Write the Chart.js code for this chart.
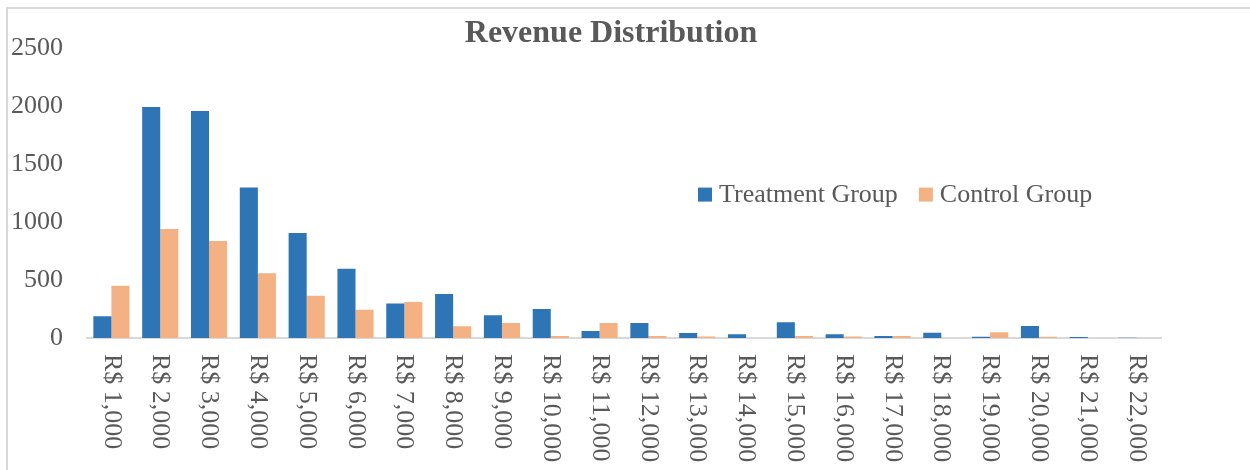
<!DOCTYPE html>
<html lang="en">
  <head>
    <meta charset="UTF-8" />
    <title>Revenue Distribution</title>
    <style>
      body {
        margin: 0;
        background: #fff;
        overflow: hidden;
      }

      .frame {
        position: absolute;
        left: 6px;
        top: 7px;
        right: 0;
        bottom: 0;
        border-left: 2px solid #d9d9d9;
        border-top: 2px solid #d9d9d9;
      }
    </style>
  </head>
  <body>
    <script src="https://cdn.jsdelivr.net/npm/chart.js@4.4.1/dist/chart.umd.min.js"></script>

    <div class="frame">
      <canvas id="bar-chart" width="1204" height="461"></canvas>
    </div>

    <script>
      const labels = [
        "R$ 1,000", "R$ 2,000", "R$ 3,000", "R$ 4,000", "R$ 5,000", "R$ 6,000",
        "R$ 7,000", "R$ 8,000", "R$ 9,000", "R$ 10,000", "R$ 11,000", "R$ 12,000",
        "R$ 13,000", "R$ 14,000", "R$ 15,000", "R$ 16,000", "R$ 17,000", "R$ 18,000",
        "R$ 19,000", "R$ 20,000", "R$ 21,000", "R$ 22,000"
      ];
      const treatment = [187, 1995, 1960, 1300, 908, 598, 299, 380, 197, 250, 60, 129, 43, 32, 135, 32, 18, 46, 10, 103, 9, 3];
      const control = [451, 941, 838, 560, 365, 245, 310, 102, 129, 18, 129, 18, 13, 0, 18, 12, 18, 0, 49, 10, 0, 0];
      const yTicks = [0, 500, 1000, 1500, 2000, 2500];
      const chartTitle = "Revenue Distribution";

      const font = "'Liberation Serif', 'Times New Roman', serif";
      const grey = "#595959";

      // title is centred on the whole frame, not on the plot
      const titlePlugin = {
        id: "frameTitle",
        afterDraw(chart) {
          const ctx = chart.ctx;
          ctx.save();
          ctx.font = "bold 32px " + font;
          ctx.fillStyle = grey;
          ctx.textAlign = "center";
          ctx.textBaseline = "middle";
          ctx.fillText(chartTitle, chart.width / 2 + 1, 25);
          ctx.restore();
        }
      };

      // x labels read top-to-bottom, which chart.js can't rotate that way
      const xLabelsPlugin = {
        id: "xLabels",
        afterDraw(chart) {
          const ctx = chart.ctx;
          const x = chart.scales.x;
          ctx.save();
          ctx.font = "26px " + font;
          ctx.fillStyle = grey;
          ctx.textAlign = "left";
          ctx.textBaseline = "middle";
          chart.data.labels.forEach((lab, i) => {
            ctx.save();
            ctx.translate(x.getPixelForValue(i), x.top + 16);
            ctx.rotate(Math.PI / 2);
            ctx.fillText(lab, 0, 0);
            ctx.restore();
          });
          ctx.restore();
        }
      };

      // legend sits inside the plot area
      const legendPlugin = {
        id: "innerLegend",
        afterDraw(chart) {
          const ctx = chart.ctx;
          const area = chart.chartArea;
          let lx = area.left + 611;
          const ly = area.top + 146;
          ctx.save();
          ctx.font = "26px " + font;
          ctx.textBaseline = "middle";
          chart.data.datasets.forEach(ds => {
            ctx.fillStyle = ds.backgroundColor;
            ctx.fillRect(lx, ly - 7, 14, 14);
            ctx.fillStyle = grey;
            ctx.fillText(ds.label, lx + 21, ly + 1);
            lx += 21 + ctx.measureText(ds.label).width + 21;
          });
          ctx.restore();
        }
      };

      new Chart(document.getElementById("bar-chart"), {
        type: "bar",
        data: {
          labels: labels,
          datasets: [
            {
              label: "Treatment Group",
              data: treatment,
              backgroundColor: "#2e75b6"
            },
            {
              label: "Control Group",
              data: control,
              backgroundColor: "#f4b183"
            }
          ]
        },
        options: {
          responsive: false,
          animation: false,
          devicePixelRatio: 1,
          datasets: {
            bar: { categoryPercentage: 0.74, barPercentage: 1 }
          },
          layout: { padding: { left: 0, right: 51, top: 37, bottom: 0 } },
          plugins: {
            legend: { display: false },
            tooltip: { enabled: false },
            title: { display: false }
          },
          scales: {
            x: {
              grid: { display: false, drawTicks: false },
              border: { display: true, color: "#d9d9d9", width: 2 },
              ticks: { display: false },
              afterFit(scale) {
                scale.height = 132;
              }
            },
            y: {
              min: 0,
              max: 2500,
              grid: { display: false, drawTicks: false },
              border: { display: false },
              afterBuildTicks(scale) {
                scale.ticks = yTicks.map(v => ({ value: v }));
              },
              ticks: {
                color: grey,
                font: { family: font, size: 26 },
                padding: 24,
                callback: v => String(v)
              },
              afterFit(scale) {
                scale.width = 79;
              }
            }
          }
        },
        plugins: [titlePlugin, xLabelsPlugin, legendPlugin]
      });
    </script>
  </body>
</html>
